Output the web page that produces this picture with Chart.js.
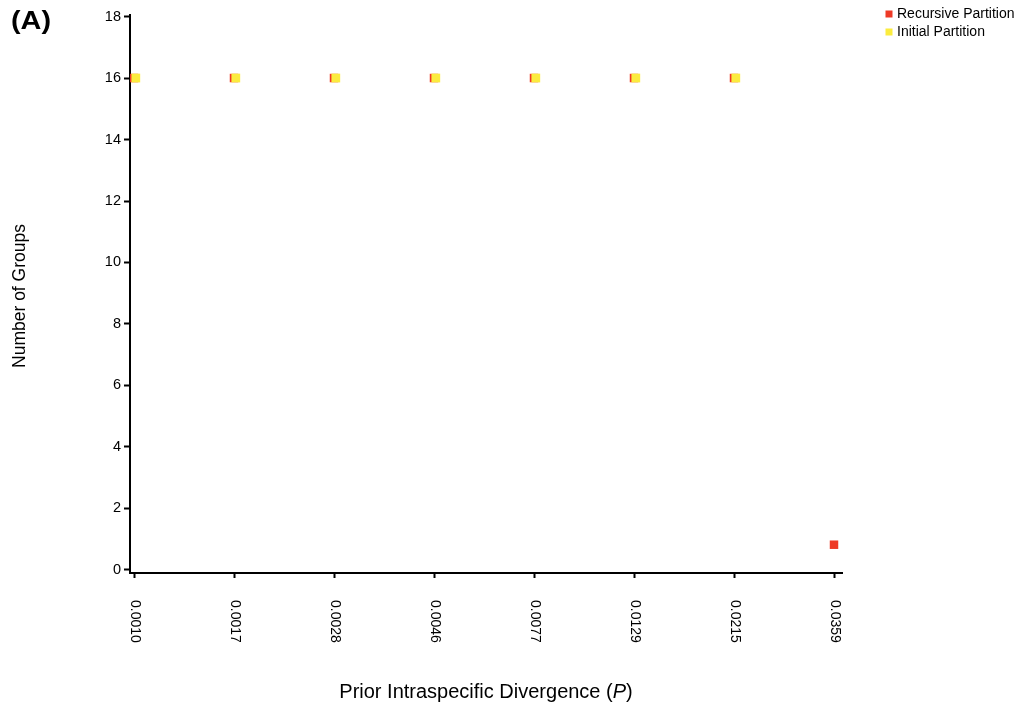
<!DOCTYPE html>
<html>
<head>
<meta charset="utf-8">
<script src="https://cdn.jsdelivr.net/npm/chart.js@4.4.0/dist/chart.umd.min.js"></script>
<style>
  html, body { margin: 0; padding: 0; background: #ffffff; }
  #wrap { width: 1023px; height: 709px; position: relative; }
</style>
</head>
<body>
<div id="wrap"><canvas id="c" width="1023" height="709"></canvas></div>
<script>
// ---- data ----
const categories = ['0.0010', '0.0017', '0.0028', '0.0046', '0.0077', '0.0129', '0.0215', '0.0359'];
const recursiveValues = [16, 16, 16, 16, 16, 16, 16, 0.82];
const initialValues = [16, 16, 16, 16, 16, 16, 16, null];
const yTickValues = [0, 2, 4, 6, 8, 10, 12, 14, 16, 18];
const seriesNames = ['Recursive Partition', 'Initial Partition'];
const panelLabel = '(A)';
const yTitle = 'Number of Groups';
const xTitleMain = 'Prior Intraspecific Divergence (';
const xTitleItalic = 'P';
const xTitleEnd = ')';

// ---- styles ----
const FONT = '"Liberation Sans", Arial, Helvetica, sans-serif';
const RED = '#ee3a26';
const YELLOW = '#fbec3e';
const YELLOW_SHIFT = 0.018; // slight horizontal offset so the red marker peeks out

const recursiveData = recursiveValues.map((v, i) => v === null ? null : { x: i, y: v }).filter(Boolean);
const initialData = initialValues.map((v, i) => v === null ? null : { x: i + YELLOW_SHIFT, y: v }).filter(Boolean);

const decorPlugin = {
  id: 'decor',
  afterDraw(chart) {
    const ctx = chart.ctx;
    const xs = chart.scales.x;
    ctx.save();
    ctx.fillStyle = '#000';

    // rotated category labels (reading top to bottom)
    ctx.font = '14px ' + FONT;
    ctx.textAlign = 'left';
    ctx.textBaseline = 'middle';
    categories.forEach((lab, i) => {
      const px = xs.getPixelForValue(i);
      ctx.save();
      ctx.translate(px + 0.5, 600);
      ctx.rotate(Math.PI / 2);
      ctx.fillText(lab, 0, 0);
      ctx.restore();
    });

    // x title with italic P
    ctx.textBaseline = 'alphabetic';
    const f1 = '20px ' + FONT, f2 = 'italic 20px ' + FONT;
    ctx.font = f1; const w1 = ctx.measureText(xTitleMain).width; const w3 = ctx.measureText(xTitleEnd).width;
    ctx.font = f2; const w2 = ctx.measureText(xTitleItalic).width;
    let sx = 486 - (w1 + w2 + w3) / 2;
    ctx.font = f1; ctx.fillText(xTitleMain, sx, 698); sx += w1;
    ctx.font = f2; ctx.fillText(xTitleItalic, sx, 698); sx += w2;
    ctx.font = f1; ctx.fillText(xTitleEnd, sx, 698);

    // y title
    ctx.save();
    ctx.translate(25, 296);
    ctx.rotate(-Math.PI / 2);
    ctx.font = '17.5px ' + FONT;
    ctx.textAlign = 'center';
    ctx.textBaseline = 'alphabetic';
    ctx.fillText(yTitle, 0, 0);
    ctx.restore();

    // panel label
    ctx.save();
    ctx.font = 'bold 25px ' + FONT;
    ctx.textAlign = 'left';
    ctx.textBaseline = 'alphabetic';
    const pw = ctx.measureText(panelLabel).width;
    ctx.translate(11, 29);
    ctx.scale(40 / pw, 1);
    ctx.fillText(panelLabel, 0, 0);
    ctx.restore();

    // legend
    ctx.font = '14px ' + FONT;
    ctx.textAlign = 'left';
    ctx.textBaseline = 'middle';
    chart.data.datasets.forEach((ds, i) => {
      const cy = 14 + i * 18;
      ctx.fillStyle = ds.backgroundColor;
      ctx.fillRect(885.5, cy - 3.5, 7, 7);
      ctx.fillStyle = '#000';
      ctx.fillText(ds.label, 897, cy);
    });
    ctx.restore();
  }
};

new Chart(document.getElementById('c'), {
  type: 'scatter',
  data: {
    datasets: [
      {
        label: seriesNames[0],
        data: recursiveData,
        backgroundColor: RED,
        borderColor: RED,
        pointStyle: 'rect',
        pointRadius: 6,
        borderWidth: 0,
        order: 2
      },
      {
        label: seriesNames[1],
        data: initialData,
        backgroundColor: YELLOW,
        borderColor: YELLOW,
        pointStyle: 'rect',
        pointRadius: 6.2,
        borderWidth: 0,
        order: 1
      }
    ]
  },
  options: {
    responsive: false,
    animation: false,
    events: [],
    layout: { padding: { top: 15, right: 181, left: 0, bottom: 0 } },
    plugins: {
      legend: { display: false },
      tooltip: { enabled: false },
      title: { display: false }
    },
    scales: {
      x: {
        type: 'linear',
        min: -0.04,
        max: 7.08,
        afterBuildTicks(scale) { scale.ticks = categories.map((c, i) => ({ value: i })); },
        afterFit(scale) { scale.height = 136; },
        ticks: { display: false },
        grid: { drawOnChartArea: false, drawTicks: true, tickLength: 5, tickWidth: 2, tickColor: '#000' },
        border: { display: true, color: '#000', width: 2 }
      },
      y: {
        type: 'linear',
        min: -0.1,
        max: 18.05,
        afterBuildTicks(scale) { scale.ticks = yTickValues.map(v => ({ value: v })); },
        afterFit(scale) { scale.width = 130; },
        ticks: {
          color: '#000',
          padding: 3,
          font: { family: FONT, size: 14.5 },
          callback: (v) => String(v)
        },
        grid: { drawOnChartArea: false, drawTicks: true, tickLength: 6, tickWidth: 2, tickColor: '#000' },
        border: { display: true, color: '#000', width: 2 }
      }
    }
  },
  plugins: [decorPlugin]
});
</script>
</body>
</html>
